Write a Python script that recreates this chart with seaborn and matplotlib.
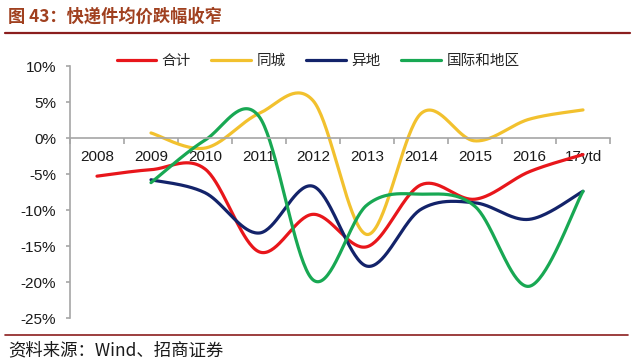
import numpy as np
import pandas as pd
import matplotlib
matplotlib.use("Agg")
import matplotlib.pyplot as plt
import seaborn as sns
from matplotlib.lines import Line2D

# ---------------- data ----------------
categories = ["2008", "2009", "2010", "2011", "2012", "2013", "2014", "2015", "2016", "17ytd"]
total = [-5.3, -4.4, -4.3, -15.8, -10.6, -15.1, -6.5, -8.5, -4.7, -2.3]          # 合计
intracity = [np.nan, 0.7, -1.4, 3.4, 5.2, -13.4, 3.4, -0.4, 2.6, 3.9]           # 同城
intercity = [np.nan, -5.8, -7.6, -13.2, -6.7, -17.8, -9.9, -9.0, -11.3, -7.4]    # 异地
intl = [np.nan, -6.2, -0.3, 3.0, -19.7, -9.3, -7.8, -9.5, -20.6, -7.4]          # 国际和地区
series_names = ["合计", "同城", "异地", "国际和地区"]
yticks = [10, 5, 0, -5, -10, -15, -20, -25]

colors = ["#E8161B", "#F2C12E", "#13236A", "#18A853"]


def smooth(xs, ys, n=40):
    """Catmull-Rom (Excel-style) smoothing of the given points."""
    xs = np.asarray(xs, float)
    ys = np.asarray(ys, float)
    m = ~np.isnan(ys)
    xs, ys = xs[m], ys[m]
    P = np.column_stack([xs, ys])
    k = len(P)
    out = []
    for i in range(k - 1):
        p0 = P[i - 1] if i > 0 else P[i]
        p1 = P[i]
        p2 = P[i + 1]
        p3 = P[i + 2] if i + 2 < k else P[i + 1]
        b1 = p1 + (p2 - p0) / 6.0
        b2 = p2 - (p3 - p1) / 6.0
        t = np.linspace(0, 1, n, endpoint=(i == k - 2))[:, None]
        seg = ((1 - t) ** 3) * p1 + 3 * ((1 - t) ** 2) * t * b1 + 3 * (1 - t) * t ** 2 * b2 + t ** 3 * p2
        out.append(seg)
    out = np.vstack(out)
    return out[:, 0], out[:, 1]


sns.set_theme(style="white")
plt.rcParams["font.family"] = ["Liberation Sans", "Noto Sans CJK SC", "DejaVu Sans"]
plt.rcParams["axes.unicode_minus"] = False

fig = plt.figure(figsize=(6.4, 3.62), dpi=100)
ax = fig.add_axes([70 / 640, 1 - 318 / 362, 540 / 640, 252 / 362])

xpos = np.arange(len(categories))
for name, vals, c in zip(series_names, [total, intracity, intercity, intl], colors):
    sx, sy = smooth(xpos, vals)
    df = pd.DataFrame({"x": sx, "y": sy})
    sns.lineplot(data=df, x="x", y="y", ax=ax, color=c, lw=2.3, sort=False,
                 estimator=None, label=name, legend=False)

ax.set_xlim(-0.5, len(categories) - 0.5)
ax.set_ylim(-25, 10)
ax.set_xlabel("")
ax.set_ylabel("")

# spines
for s in ["top", "right"]:
    ax.spines[s].set_visible(False)
ax.spines["left"].set_color("#A6A6A6")
ax.spines["left"].set_linewidth(1.2)
ax.spines["bottom"].set_position(("data", 0))
ax.spines["bottom"].set_color("#A6A6A6")
ax.spines["bottom"].set_linewidth(1.2)

ax.set_yticks(yticks)
ax.set_yticklabels([f"{v}%" for v in yticks], fontsize=11, color="#1a1a1a")
ax.tick_params(axis="y", direction="out", length=3, width=1.2, color="#A6A6A6", pad=7, left=True)

ax.set_xticks(np.arange(len(categories) + 1) - 0.5)
ax.set_xticklabels([])
ax.set_xticks(xpos, minor=True)
ax.set_xticklabels(categories, minor=True, fontsize=11, color="#1a1a1a")
ax.tick_params(axis="x", which="major", direction="out", length=4, width=1.2, color="#A6A6A6", bottom=True)
ax.tick_params(axis="x", which="minor", length=0, pad=8.5)
ax.grid(False)

# legend
handles = [Line2D([0], [0], color=c, lw=2.3) for c in colors]
fig.legend(handles, series_names, loc="center", bbox_to_anchor=(318 / 640, 1 - 61 / 362), ncol=4,
           frameon=False, handlelength=2.7, handletextpad=0.4, columnspacing=1.4,
           prop={"family": ["Noto Sans CJK SC", "DejaVu Sans"], "size": 10.5})

# title and footer
fig.text(8 / 640, 1 - 17 / 362, "图 43：快递件均价跌幅收窄", ha="left", va="center",
         fontsize=12.4, fontweight="bold", color="#A0401F",
         family=["Noto Sans CJK SC", "DejaVu Sans"])
fig.add_artist(Line2D([5 / 640, 630 / 640], [1 - 33 / 362, 1 - 33 / 362], color="#8B1E1E", lw=1.6))
fig.add_artist(Line2D([5 / 640, 628 / 640], [1 - 335 / 362, 1 - 335 / 362], color="#8B1E1E", lw=1.2))
fig.text(8 / 640, 1 - 350 / 362, "资料来源：Wind、招商证券", ha="left", va="center",
         fontsize=12.5, color="#1a1a1a", family=["Noto Sans CJK SC", "DejaVu Sans"])

fig.savefig("out.png", dpi=100)
